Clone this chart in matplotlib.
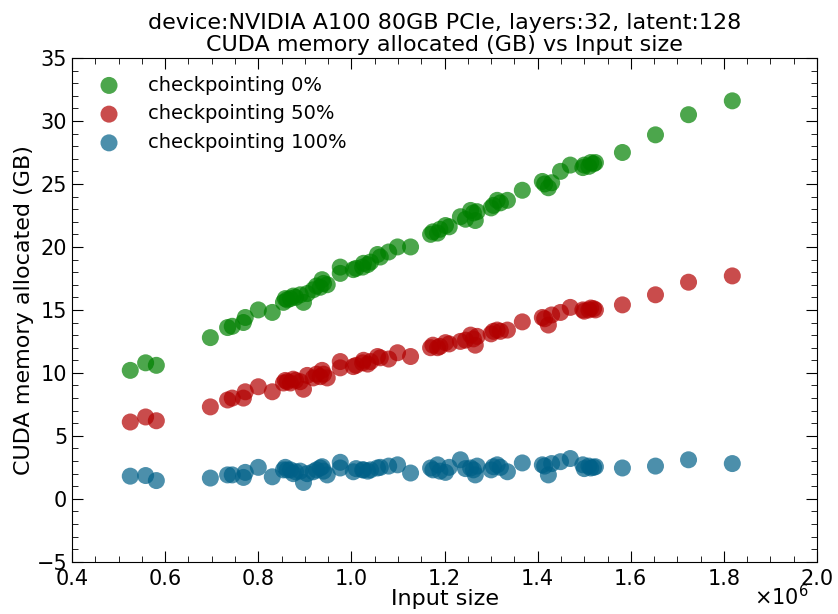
#! /usr/bin/env python3

'''
scatter plot of CUDA memory allocated vs input size for three checkpointing levels
'''

import numpy as np
import matplotlib.pyplot as plt
from matplotlib.ticker import AutoMinorLocator, FuncFormatter

# input sizes (x 1e6), shared by the three runs
input_size = [0.525, 0.558, 0.581, 0.697, 0.734, 0.744, 0.768, 0.772, 0.800, 0.830,
              0.854, 0.858, 0.862, 0.869, 0.875, 0.880, 0.890, 0.897, 0.905, 0.918,
              0.925, 0.933, 0.937, 0.940, 0.948, 0.976, 0.976, 1.004, 1.010, 1.024,
              1.026, 1.035, 1.041, 1.056, 1.062, 1.080, 1.099, 1.127, 1.170, 1.175,
              1.185, 1.190, 1.202, 1.210, 1.234, 1.245, 1.256, 1.262, 1.266, 1.270,
              1.300, 1.305, 1.313, 1.320, 1.335, 1.367, 1.410, 1.415, 1.423, 1.430,
              1.449, 1.470, 1.497, 1.500, 1.510, 1.514, 1.520, 1.524, 1.582, 1.653,
              1.724, 1.818]

# memory in GB
mem_ckpt0 = [10.2, 10.8, 10.6, 12.8, 13.6, 13.7, 14.0, 14.4, 15.0, 14.8,
             15.6, 15.9, 15.8, 15.9, 16.1, 16.0, 16.2, 15.6, 16.3, 16.6,
             16.9, 16.8, 17.4, 17.1, 17.0, 18.4, 17.9, 18.2, 18.3, 18.4,
             18.7, 18.6, 18.8, 19.4, 19.2, 19.6, 20.0, 20.0, 21.0, 21.2,
             21.1, 21.4, 21.7, 21.6, 22.4, 22.2, 22.9, 22.7, 22.1, 22.8,
             23.1, 23.3, 23.7, 23.5, 23.7, 24.5, 25.2, 25.0, 24.7, 25.1,
             26.0, 26.5, 26.3, 26.5, 26.4, 26.7, 26.6, 26.7, 27.5, 28.9,
             30.5, 31.6]

mem_ckpt50 = [6.1, 6.5, 6.2, 7.3, 7.85, 8.0, 8.0, 8.5, 8.9, 8.5,
              9.2, 9.4, 9.3, 9.2, 9.5, 9.4, 9.3, 8.7, 9.8, 9.6,
              9.9, 9.7, 10.2, 9.9, 9.6, 10.9, 10.4, 10.5, 10.6, 10.8,
              11.0, 10.7, 10.9, 11.3, 11.2, 11.1, 11.6, 11.3, 12.0, 12.2,
              12.0, 12.1, 12.4, 12.3, 12.5, 12.6, 13.0, 12.7, 12.2, 12.9,
              13.1, 13.3, 13.4, 13.3, 13.4, 14.05, 14.4, 14.3, 13.8, 14.6,
              14.8, 15.2, 15.0, 14.9, 15.0, 15.15, 15.1, 15.0, 15.4, 16.2,
              17.2, 17.7]

mem_ckpt100 = [1.8, 1.85, 1.45, 1.65, 1.9, 1.9, 1.7, 2.1, 2.5, 1.75,
               2.3, 2.5, 2.3, 2.3, 2.0, 2.15, 2.2, 1.3, 2.0, 2.15,
               2.3, 2.45, 2.55, 2.2, 1.9, 2.9, 2.45, 2.15, 2.4, 2.3,
               2.3, 2.2, 2.3, 2.45, 2.5, 2.6, 2.7, 2.05, 2.45, 2.3,
               2.7, 2.2, 2.1, 2.5, 3.1, 2.4, 2.45, 2.3, 1.9, 2.6,
               2.3, 2.55, 2.7, 2.5, 2.15, 2.85, 2.7, 2.6, 1.9, 2.8,
               2.95, 3.2, 2.7, 2.4, 2.6, 2.45, 2.5, 2.55, 2.45, 2.6,
               3.1, 2.8]

x = np.array(input_size) * 1e6

fig = plt.figure(figsize=(8.38, 6.14), dpi=100)
ax = fig.add_axes([0.086, 0.085, 0.889, 0.8205])

ax.scatter(x, mem_ckpt0, s=150, color='#008000', alpha=0.7, edgecolors='none', label='checkpointing 0%')
ax.scatter(x, mem_ckpt50, s=150, color='#b20000', alpha=0.7, edgecolors='none', label='checkpointing 50%')
ax.scatter(x, mem_ckpt100, s=150, color='#006088', alpha=0.7, edgecolors='none', label='checkpointing 100%')

ax.set_xlim(0.4e6, 2.0e6)
ax.set_ylim(-5, 35)
ax.set_xlabel('Input size', fontsize=16, labelpad=0)
ax.set_ylabel('CUDA memory allocated (GB)', fontsize=16, labelpad=2)
ax.set_title('device:NVIDIA A100 80GB PCIe, layers:32, latent:128\nCUDA memory allocated (GB) vs Input size',
             fontsize=16, pad=5, linespacing=1.1)

# tick labels in units of 1e6, multiplier written at the bottom right
ax.xaxis.set_major_formatter(FuncFormatter(lambda v, p: f'{v / 1e6:.1f}'))
fig.text(0.965, 0.028, r'$\times10^{6}$', ha='right', va='center', fontsize=15)

# inward ticks on all sides
ax.xaxis.set_minor_locator(AutoMinorLocator(4))
ax.yaxis.set_minor_locator(AutoMinorLocator(5))
ax.tick_params(which='both', direction='in', top=True, right=True, labelsize=15)
ax.tick_params(which='major', length=8)
ax.tick_params(which='minor', length=4)
ax.tick_params(axis='x', pad=5)

ax.legend(loc='upper left', frameon=False, fontsize=14, scatterpoints=1, handletextpad=1.0,
          borderaxespad=0.5, labelspacing=0.5)

plt.savefig('out.png', format='png')
